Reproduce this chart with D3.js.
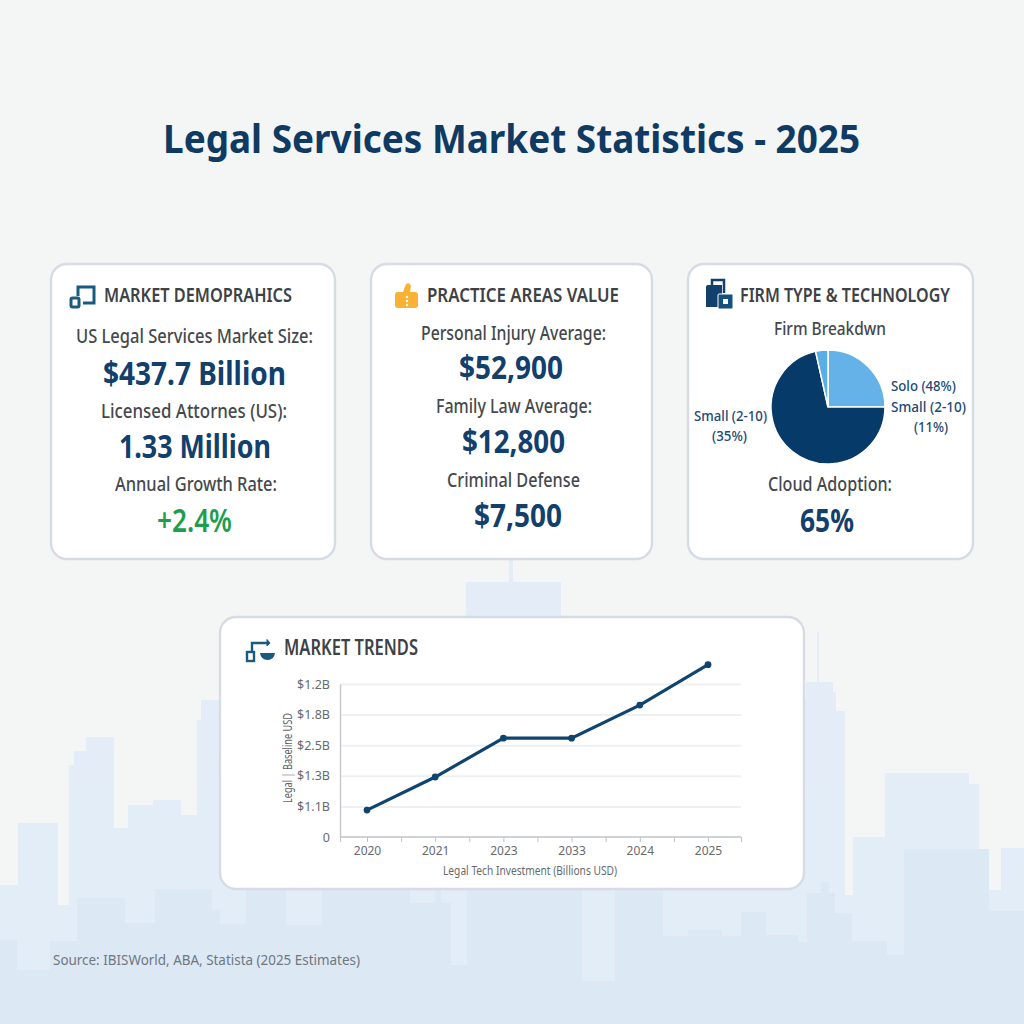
<!DOCTYPE html>
<html>
<head>
<meta charset="utf-8">
<script src="https://cdn.jsdelivr.net/npm/d3@7"></script>
<style>
  html, body { margin: 0; padding: 0; background: #f4f5f5; }
  svg { display: block; }
  text { font-family: "Noto Sans", sans-serif; }
</style>
</head>
<body>
<div id="chart"></div>
<script>
// data
const years = ["2020", "2021", "2023", "2033", "2024", "2025"];
const investment = [0.88, 1.96, 3.23, 3.23, 4.31, 5.63]; // in tick steps, the tick labels are not monotonic
const yTickLabels = ["0", "$1.1B", "$1.3B", "$2.5B", "$1.8B", "$1.2B"];
const firmShares = [25, 71.5, 3.5];
const firmColors = ["#65b2e8", "#063b69", "#5aaee6"];

const demoLabels = ["US Legal Services Market Size:", "Licensed Attornes (US):", "Annual Growth Rate:"];
const demoValues = ["$437.7 Billion", "1.33 Million", "+2.4%"];
const practiceLabels = ["Personal Injury Average:", "Family Law Average:", "Criminal Defense"];
const practiceValues = ["$52,900", "$12,800", "$7,500"];

// skyline outlines, [x, top of building], drawn as steps
const skylineBack = [[0,885],[18,823],[58,905],[69,765],[74,751],[86,737],[114,828],[128,805],[153,800],[181,815],[197,720],[201,700],[806,682],[833,692],[836,711],[845,895],[853,837],[885,773],[969,784],[979,890],[1001,848],[1024,848]];
const skylineFront = [[0,940],[17,970],[50,941],[77,898],[125,923],[155,889],[212,910],[220,924],[246,880],[286,925],[322,880],[410,903],[435,880],[441,903],[451,965],[467,880],[582,981],[615,880],[663,936],[688,930],[722,936],[741,912],[766,935],[798,942],[807,893],[821,882],[829,893],[835,913],[852,941],[887,955],[904,849],[989,911],[1024,911]];

const navy = "#123f6c", grey = "#44494d", headGrey = "#3d4246";

const svg = d3.select("#chart").append("svg")
    .attr("width", 1024)
    .attr("height", 1024);

const defs = svg.append("defs");
const grad = defs.append("linearGradient").attr("id", "backFade")
    .attr("gradientUnits", "userSpaceOnUse")
    .attr("x1", 0).attr("x2", 0).attr("y1", 680).attr("y2", 800);
grad.append("stop").attr("offset", "0%").attr("stop-color", "#e5ecf8");
grad.append("stop").attr("offset", "100%").attr("stop-color", "#e3edf7");

svg.append("rect").attr("width", 1024).attr("height", 1024).attr("fill", "#f4f5f5");

// background city
const sky = d3.area().x(d => d[0]).y0(1024).y1(d => d[1]).curve(d3.curveStepAfter);
svg.append("rect").attr("x", 509).attr("y", 553).attr("width", 4).attr("height", 40).attr("fill", "#e3ecf7");
svg.append("rect").attr("x", 466).attr("y", 582).attr("width", 95).attr("height", 120).attr("fill", "#e3ecf7");
svg.append("rect").attr("x", 817).attr("y", 632).attr("width", 2).attr("height", 60).attr("fill", "#e6ecf8");
svg.append("path").attr("d", sky(skylineBack)).attr("fill", "url(#backFade)");
svg.append("path").attr("d", sky(skylineFront)).attr("fill", "#dce8f4");

function txt(str, x0, x1, y, size, weight, fill) {
  return svg.append("text")
      .attr("x", x0)
      .attr("y", y)
      .attr("textLength", x1 - x0)
      .attr("lengthAdjust", "spacingAndGlyphs")
      .style("font-size", size + "px")
      .style("font-weight", weight)
      .attr("fill", fill)
      .text(str);
}

function card(x, y, w, h) {
  svg.append("rect")
      .attr("x", x).attr("y", y)
      .attr("width", w).attr("height", h)
      .attr("rx", 16)
      .attr("fill", "#fff")
      .attr("stroke", "#d6dbe5")
      .attr("stroke-width", 2.4);
}

card(51, 264, 284, 295);
card(371, 264, 281, 295);
card(688, 264, 285, 295);
card(220, 617, 584, 272);

txt("Legal Services Market Statistics - 2025", 163, 860, 153, 40, 700, "#0f3a63");

// card 1
txt("MARKET DEMOPRAHICS", 104, 292, 302, 20, 600, headGrey);
txt(demoLabels[0], 76, 313, 343, 19, 500, grey);
txt(demoValues[0], 103, 286, 385, 33, 700, navy);
txt(demoLabels[1], 101, 287, 418, 19, 500, grey);
txt(demoValues[1], 119, 271, 458, 33, 700, navy);
txt(demoLabels[2], 115, 277, 491, 19, 500, grey);
txt(demoValues[2], 157, 232, 532, 33, 600, "#1f9d4d");

// card 2
txt("PRACTICE AREAS VALUE", 427, 619, 302, 20, 600, headGrey);
txt(practiceLabels[0], 421, 606, 340, 19, 500, grey);
txt(practiceValues[0], 459, 563, 379, 33, 700, navy);
txt(practiceLabels[1], 436, 592, 413, 19, 500, grey);
txt(practiceValues[1], 462, 565, 453, 33, 700, navy);
txt(practiceLabels[2], 447, 580, 487, 19, 500, grey);
txt(practiceValues[2], 474, 562, 527, 33, 700, navy);

// card 3
txt("FIRM TYPE & TECHNOLOGY", 740, 950, 302, 20, 600, headGrey);
txt("Firm Breakdwn", 774, 886, 335, 18, 500, grey);

const pie = d3.pie().sort(null);
const arc = d3.arc().innerRadius(0).outerRadius(57);
svg.append("g")
    .attr("transform", "translate(828,407)")
  .selectAll("path")
  .data(pie(firmShares))
  .join("path")
    .attr("d", arc)
    .attr("fill", (d, i) => firmColors[i])
    .attr("stroke", "#fff")
    .attr("stroke-width", 1.5);

txt("Solo (48%)", 891, 956, 391, 15, 500, "#1d4a75");
txt("Small (2-10)", 891, 966, 412, 15, 500, "#1d4a75");
txt("(11%)", 914, 948, 432, 15, 500, "#1d4a75");
txt("Small (2-10)", 694, 767, 421, 15, 500, "#1d4a75");
txt("(35%)", 712, 747, 441, 15, 500, "#1d4a75");

txt("Cloud Adoption:", 768, 892, 491, 19, 500, grey);
txt("65%", 800, 854, 532, 32, 700, navy);

// card 4, line chart
txt("MARKET TRENDS", 284, 418, 655, 21, 600, headGrey);

const xScale = d3.scalePoint().domain(years).range([367, 708]);
const yScale = d3.scaleLinear().domain([0, 5]).range([837, 684]);

// gridlines
svg.append("g")
    .attr("transform", "translate(340,0)")
    .call(d3.axisLeft(yScale).tickValues(d3.range(1, 6)).tickSize(-401).tickFormat(""))
    .call(g => g.select(".domain").remove())
    .call(g => g.selectAll("line").attr("stroke", "#eff0f2").attr("stroke-width", 2));

const yAxis = svg.append("g")
    .attr("transform", "translate(340,0)")
    .call(d3.axisLeft(yScale).tickValues(d3.range(0, 6)).tickSize(0).tickPadding(10).tickFormat(i => yTickLabels[i]));
yAxis.select(".domain").attr("stroke", "#c6cace").attr("stroke-width", 1.5);
yAxis.selectAll("text").attr("fill", "#666b70").style("font-size", "12.5px").style("font-family", '"Noto Sans", sans-serif');

const xAxis = svg.append("g")
    .attr("transform", "translate(0,837)")
    .call(d3.axisBottom(xScale).tickSize(5).tickPadding(4));
xAxis.select(".domain").attr("d", "M340,0H741").attr("stroke", "#bfc3c8").attr("stroke-width", 1.5);
xAxis.selectAll("line").attr("stroke", "#bfc3c8");
xAxis.selectAll("text").attr("fill", "#666b70").style("font-size", "12px").style("font-family", '"Noto Sans", sans-serif');

// in-between ticks
const midTicks = [340].concat(years.slice(1).map(d => xScale(d) - xScale.step() / 2), [741]);
svg.append("g")
    .attr("transform", "translate(0,837)")
    .call(d3.axisBottom(d3.scaleIdentity()).tickValues(midTicks).tickSize(5).tickFormat(""))
    .call(g => g.select(".domain").remove())
    .call(g => g.selectAll("line").attr("stroke", "#bfc3c8"));

txt("Legal Tech Investment (Billions USD)", 443, 617, 875, 12, 400, "#666b70");

svg.append("text")
    .attr("transform", "translate(292,803) rotate(-90)")
    .attr("textLength", 90)
    .attr("lengthAdjust", "spacingAndGlyphs")
    .style("font-size", "13px")
    .attr("fill", "#5f6468")
    .text("Legal | Baseline USD");

const valueline = d3.line()
    .x((d, i) => xScale(years[i]))
    .y(d => yScale(d));

svg.append("path")
    .attr("fill", "none")
    .attr("stroke", "#0f4470")
    .attr("stroke-width", 3.2)
    .attr("d", valueline(investment));

svg.append("g").selectAll("circle")
    .data(investment)
    .join("circle")
    .attr("cx", (d, i) => xScale(years[i]))
    .attr("cy", d => yScale(d))
    .attr("r", 3.4)
    .attr("fill", "#0f4470");

txt("Source: IBISWorld, ABA, Statista (2025 Estimates)", 53, 360, 965, 15, 400, "#70777f");

// header icons
const icons = svg.append("g");
// card 1
icons.append("path").attr("d", "M78,296V287H94V303H83").attr("fill", "none").attr("stroke", "#1a5a80").attr("stroke-width", 3);
icons.append("rect").attr("x", 71).attr("y", 298).attr("width", 8).attr("height", 9).attr("rx", 1.5).attr("fill", "none").attr("stroke", "#1a5a80").attr("stroke-width", 3);
// card 2, thumb
icons.append("path").attr("d", "M398,292H403L406,284Q410,282 411,286L410,292H415Q418,292 418,295V305Q418,308 415,308H398Q395,308 395,305V295Q395,292 398,292Z").attr("fill", "#f9b233");
[297, 301, 305].forEach(y => icons.append("circle").attr("cx", 407).attr("cy", y).attr("r", 1.2).attr("fill", "#fff"));
// card 3, case
icons.append("path").attr("d", "M706,287Q706,285 708,285H722V307H706Z").attr("fill", "#123f6b");
icons.append("path").attr("d", "M712,285V280H724V293").attr("fill", "none").attr("stroke", "#123f6b").attr("stroke-width", 2.5);
icons.append("rect").attr("x", 718).attr("y", 294).attr("width", 15).attr("height", 15).attr("rx", 1).attr("fill", "#15507f").attr("stroke", "#fff").attr("stroke-width", 1);
icons.append("rect").attr("x", 723).attr("y", 299).attr("width", 5).attr("height", 5).attr("fill", "#fff");
// card 4
icons.append("rect").attr("x", 247).attr("y", 652).attr("width", 7).attr("height", 9).attr("fill", "none").attr("stroke", "#1a5a80").attr("stroke-width", 2.4);
icons.append("path").attr("d", "M252,651V643H268").attr("fill", "none").attr("stroke", "#1a5a80").attr("stroke-width", 2.4);
icons.append("path").attr("d", "M267,639.5L270,643L267,646Z").attr("fill", "#1a5a80").attr("stroke", "#1a5a80");
icons.append("path").attr("d", "M260,653H275Q274,660 267.5,660Q261,660 260,653Z").attr("fill", "#1a5a80");
</script>
</body>
</html>
